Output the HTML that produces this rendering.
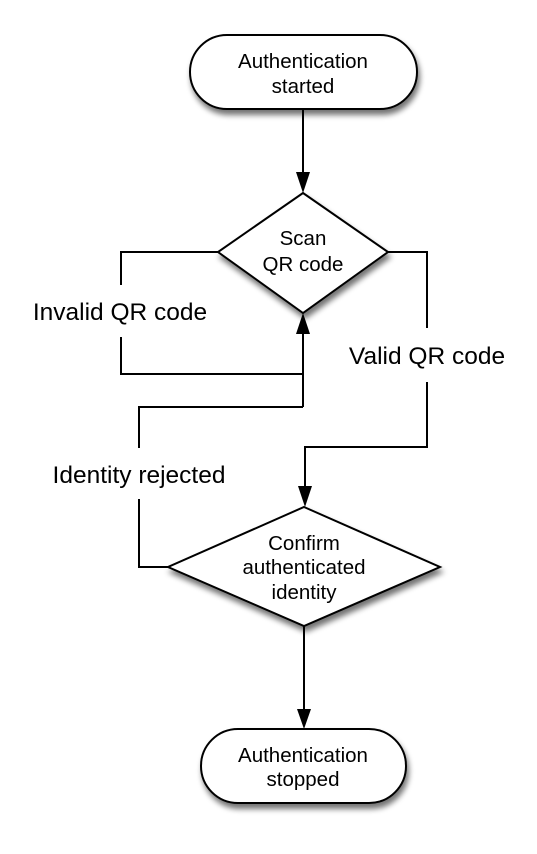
<!DOCTYPE html>
<html><head><meta charset="utf-8"><style>
html,body{margin:0;padding:0;background:#fff;}
svg{display:block;}
text{font-family:"Liberation Sans",Arial,sans-serif;fill:#000;}
</style></head><body>
<svg width="537" height="854" viewBox="0 0 537 854" xmlns="http://www.w3.org/2000/svg">
<defs>
<filter id="sh" x="-20%" y="-20%" width="150%" height="160%">
<feGaussianBlur in="SourceAlpha" stdDeviation="3"/>
<feOffset dx="2" dy="5" result="b"/>
<feComponentTransfer><feFuncA type="linear" slope="0.55"/></feComponentTransfer>
<feMerge><feMergeNode/><feMergeNode in="SourceGraphic"/></feMerge>
</filter>
</defs>
<g fill="none" stroke="#000" stroke-width="2">
<line x1="303" y1="109" x2="303" y2="175"/>
<polyline points="218,252 121,252 121,285"/>
<polyline points="121,337 121,374 303,374"/>
<line x1="303" y1="407" x2="303" y2="330"/>
<polyline points="388,252 427,252 427,328"/>
<polyline points="427,382 427,447 305,447 305,490"/>
<polyline points="168,567 139,567 139,499"/>
<polyline points="139,448 139,407 303,407"/>
<line x1="304" y1="626" x2="304" y2="711"/>
</g>
<g fill="#000">
<polygon points="296,172 310,172 303,193"/>
<polygon points="296,334 310,334 303,313"/>
<polygon points="298,486 312,486 305,507"/>
<polygon points="297,709 311,709 304,729"/>
</g>
<g fill="#fff" stroke="#000" stroke-width="2" filter="url(#sh)">
<rect x="190" y="35" width="227" height="74" rx="37" ry="37"/>
<polygon points="303,193 388,252 303,313 218,252"/>
<polygon points="304,507 440,567 304,626 168,567"/>
<rect x="201" y="729" width="205" height="74" rx="37" ry="37"/>
</g>
<g font-size="20.5" text-anchor="middle">
<text x="303" y="68">Authentication</text>
<text x="303" y="93">started</text>
<text x="303" y="245">Scan</text>
<text x="303" y="271">QR code</text>
<text x="304" y="550">Confirm</text>
<text x="304" y="574">authenticated</text>
<text x="304" y="599">identity</text>
<text x="303" y="762">Authentication</text>
<text x="303" y="786">stopped</text>
</g>
<g font-size="24.5" text-anchor="middle">
<text x="120" y="320">Invalid QR code</text>
<text x="427" y="364">Valid QR code</text>
<text x="139" y="483">Identity rejected</text>
</g>
</svg>
</body></html>
